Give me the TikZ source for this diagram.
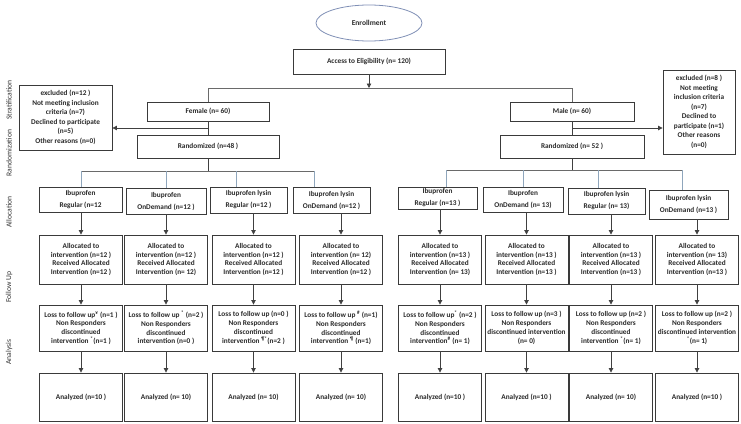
\documentclass[tikz,border=0pt]{standalone}
\usepackage{fontspec}
\setmainfont{Carlito}
\usetikzlibrary{arrows.meta,shapes.geometric}
\definecolor{boxc}{HTML}{3A3A3A}
\definecolor{txtc}{HTML}{2A2A2A}
\definecolor{linec}{HTML}{404040}
\definecolor{graylc}{HTML}{6A6A6A}
\definecolor{stubc}{HTML}{8FA6BC}
\definecolor{ellc}{HTML}{7F8FB5}
\definecolor{labc}{HTML}{333333}
\newcommand{\sm}[1]{\textsuperscript{#1}}
\begin{document}
\begin{tikzpicture}[x=1pt,y=-1pt,
  box/.style={draw=boxc, line width=0.9pt, fill=white, align=center, inner sep=1pt,
    font=\fontsize{7.3}{8.8}\selectfont\bfseries, text=txtc},
  exbox/.style={box, font=\fontsize{7.3}{9.5}\selectfont\bfseries},
  albox/.style={box, font=\fontsize{7.3}{12}\selectfont\bfseries},
  colbox/.style={box, minimum width=83pt},
  conn/.style={draw=linec, line width=0.8pt},
  grayl/.style={draw=graylc, line width=0.8pt},
  stub/.style={draw=stubc, line width=0.8pt},
  arr/.style={draw=linec, line width=0.8pt, -{Triangle[length=4.5pt,width=4.5pt]}},
  lab/.style={rotate=90, font=\fontsize{7.6}{8.5}\selectfont, text=labc}
]
\useasboundingbox (0,0) rectangle (741,423);

% side labels
\node[lab] (lbS) at (9,100) {Stratification};
\node[lab] (lbR) at (9,153) {Randomization};
\node[lab] (lbA) at (9,212) {Allocation};
\node[lab] (lbF) at (9,287) {Follow Up};
\node[lab] (lbN) at (9,352) {Analysis};

% top
\node[ellipse, draw=ellc, line width=0.8pt, minimum width=106pt, minimum height=36pt,
  font=\fontsize{7.5}{9}\selectfont\bfseries, text=txtc] (enr) at (369,23) {Enrollment};
\node[box, minimum width=152pt, minimum height=25pt] (elig) at (369,61.5) {Access to Eligibility (n= 120)};

\coordinate (jE) at (369,88);
\coordinate (jF) at (208,88);
\coordinate (jM) at (572,88);
\draw[grayl] (jF) -- (jM);
\draw[arr] (elig.south) -- (jE);

% female branch
\node[box, minimum width=122pt, minimum height=19pt] (fem) at (208,111.5) {Female (n= 60)};
\node[box, minimum width=142pt, minimum height=23pt] (randF) at (208,146.5) {Randomized (n=48 )};
\node[exbox, minimum width=93pt, minimum height=65pt] (exclL) at (65.5,117.5)
  {excluded (n=12 )\\Not meeting inclusion\\criteria (n=7)\\Declined to participate\\(n=5)\\Other reasons (n=0)};
\draw[grayl] (jF) -- (fem.north);
\draw[conn] (fem.south) -- (randF.north);
\coordinate (xF) at (208,128);
\draw[arr] (xF) -- (exclL.east |- xF);

% male branch
\node[box, minimum width=124pt, minimum height=19pt] (male) at (572,111.5) {Male (n= 60)};
\node[box, minimum width=144pt, minimum height=23pt] (randM) at (572,146.5) {Randomized (n= 52 )};
\node[exbox, minimum width=72pt, minimum height=84pt] (exclR) at (699,112)
  {excluded (n=8 )\\Not meeting\\inclusion criteria\\(n=7)\\Declined to\\participate (n=1)\\Other reasons\\(n=0)};
\draw[grayl] (jM) -- (male.north);
\draw[conn] (male.south) -- (randM.north);
\coordinate (xM) at (572,128);
\draw[arr] (xM) -- (exclR.west |- xM);

% allocation boxes left
\node[albox, minimum width=83pt, minimum height=25pt] (aL1) at (80.5,199.5) {Ibuprofen\\Regular (n=12};
\node[albox, minimum width=80pt, minimum height=26pt] (aL2) at (166,201) {Ibuprofen\\OnDemand (n=12 )};
\node[albox, minimum width=77pt, minimum height=26pt] (aL3) at (248.5,200) {Ibuprofen lysin\\Regular (n=12 )};
\node[albox, minimum width=77pt, minimum height=26pt] (aL4) at (331.5,200) {Ibuprofen lysin\\OnDemand (n=12 )};
% allocation boxes right
\node[albox, minimum width=79pt, minimum height=22pt] (aR1) at (437.5,198) {Ibuprofen\\Regular (n=13 )};
\node[albox, minimum width=80pt, minimum height=25pt] (aR2) at (523,199.5) {Ibuprofen\\OnDemand (n= 13)};
\node[albox, minimum width=77pt, minimum height=26pt] (aR3) at (606.5,201) {Ibuprofen lysin\\Regular (n= 13)};
\node[albox, minimum width=79pt, minimum height=29pt] (aR4) at (688.5,204.5) {Ibuprofen lysin\\OnDemand (n=13 )};

% branch lines left
\coordinate (bF) at (208,171);
\coordinate (hL1) at (81,171);
\coordinate (hL2) at (166,171);
\coordinate (hL3) at (236,171);
\coordinate (hL4) at (314,171);
\draw[conn] (randF.south) -- (bF);
\draw[grayl] (hL1) -- (hL4);
\draw[stub] (hL1) -- (hL1 |- aL1.north);
\draw[stub] (hL2) -- (hL2 |- aL2.north);
\draw[stub] (hL3) -- (hL3 |- aL3.north);
\draw[stub] (hL4) -- (hL4 |- aL4.north);
% branch lines right
\coordinate (bM) at (572,170);
\coordinate (hR1) at (446,170);
\coordinate (hR2) at (523,170);
\coordinate (hR3) at (598,170);
\coordinate (hR4) at (682,170);
\draw[conn] (randM.south) -- (bM);
\draw[grayl] (hR1) -- (hR4);
\draw[stub] (hR1) -- (hR1 |- aR1.north);
\draw[stub] (hR2) -- (hR2 |- aR2.north);
\draw[stub] (hR3) -- (hR3 |- aR3.north);
\draw[stub] (hR4) -- (hR4 |- aR4.north);

% allocated rows
\node[colbox, minimum height=49pt] (nL1) at (81,259.5) {Allocated to\\intervention (n=12 )\\Received Allocated\\Intervention (n=12 )};
\node[colbox, minimum height=49pt] (nL2) at (166,259.5) {Allocated to\\intervention (n=12 )\\Received Allocated\\Intervention (n= 12)};
\node[colbox, minimum height=49pt] (nL3) at (253.5,259.5) {Allocated to\\intervention (n=12 )\\Received Allocated\\Intervention (n=12 )};
\node[colbox, minimum height=49pt] (nL4) at (341,259.5) {Allocated to\\intervention (n= 12)\\Received Allocated\\Intervention (n=12 )};
\node[colbox, minimum height=49pt] (nR1) at (440,259.5) {Allocated to\\intervention (n=13 )\\Received Allocated\\Intervention (n= 13)};
\node[colbox, minimum height=49pt] (nR2) at (526.5,259.5) {Allocated to\\intervention (n=13 )\\Received Allocated\\Intervention (n=13 )};
\node[colbox, minimum height=49pt] (nR3) at (611,259.5) {Allocated to\\intervention (n=13 )\\Received Allocated\\Intervention (n=13 )};
\node[colbox, minimum height=49pt] (nR4) at (697,259.5) {Allocated to\\intervention (n= 13)\\Received Allocated\\Intervention (n=13 )};

% loss rows
\node[colbox, minimum height=46pt] (sL1) at (81,328) {Loss to follow up\sm{¥} (n=1 )\\Non Responders\\discontinued\\intervention \sm{*}(n=1 )};
\node[colbox, minimum height=46pt] (sL2) at (166,328) {Loss to follow up \sm{*} (n=2 )\\Non Responders\\discontinued\\intervention (n=0 )};
\node[colbox, minimum height=46pt] (sL3) at (253.5,328) {Loss to follow up (n=0 )\\Non Responders\\discontinued\\intervention \sm{¶*}(n=2 )};
\node[colbox, minimum height=46pt] (sL4) at (341,328) {Loss to follow up \sm{\#} (n=1)\\Non Responders\\discontinued\\intervention \sm{¶} (n=1)};
\node[colbox, minimum height=46pt] (sR1) at (440,328) {Loss to follow up\sm{*} (n=2 )\\Non Responders\\discontinued\\intervention\sm{\#} (n= 1)};
\node[colbox, minimum height=46pt] (sR2) at (526.5,328) {Loss to follow up (n=3 )\\Non Responders\\discontinued intervention\\(n= 0)};
\node[colbox, minimum height=46pt] (sR3) at (611,328) {Loss to follow up (n=2 )\\Non Responders\\discontinued\\intervention \sm{*}(n= 1)};
\node[colbox, minimum height=46pt] (sR4) at (697,328) {Loss to follow up (n=2 )\\Non Responders\\discontinued intervention\\\sm{*}(n= 1)};

% analyzed rows
\node[colbox, minimum height=48pt] (zL1) at (81,397) {Analyzed (n=10 )};
\node[colbox, minimum height=48pt] (zL2) at (166,397) {Analyzed (n= 10)};
\node[colbox, minimum height=48pt] (zL3) at (253.5,397) {Analyzed (n= 10)};
\node[colbox, minimum height=48pt] (zL4) at (341,397) {Analyzed (n= 10)};
\node[colbox, minimum height=48pt] (zR1) at (440,397) {Analyzed (n=10 )};
\node[colbox, minimum height=48pt] (zR2) at (526.5,397) {Analyzed (n=10 )};
\node[colbox, minimum height=48pt] (zR3) at (611,397) {Analyzed (n= 10)};
\node[colbox, minimum height=48pt] (zR4) at (697,397) {Analyzed (n=10 )};

% vertical arrows
\foreach \s in {L1,L2,L3,L4,R1,R2,R3,R4}{
  \draw[arr] (a\s.south -| n\s.north) -- (n\s.north);
  \draw[arr] (n\s.south) -- (s\s.north);
  \draw[arr] (s\s.south) -- (z\s.north);
}
\end{tikzpicture}
\end{document}
